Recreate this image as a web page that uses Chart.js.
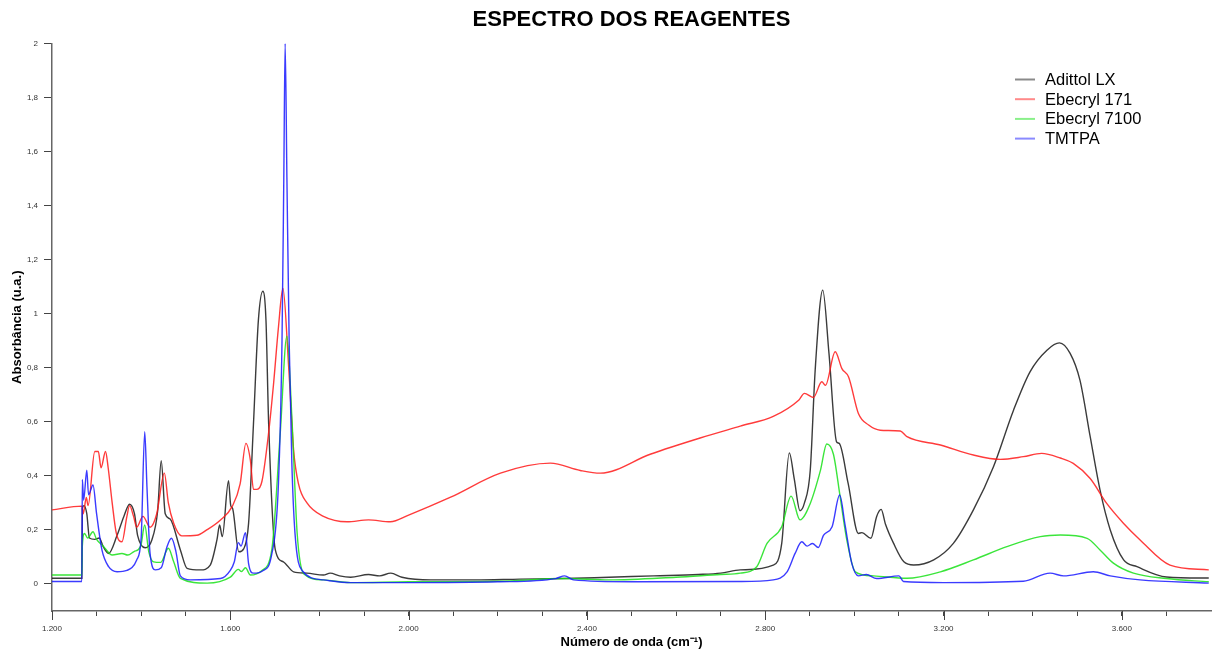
<!DOCTYPE html>
<html>
<head>
<meta charset="utf-8">
<title>Espectro dos reagentes</title>
<script src="https://cdn.jsdelivr.net/npm/chart.js@4.4.1/dist/chart.umd.min.js"></script>
<style>
  html, body { margin: 0; padding: 0; background: #fff; }
</style>
</head>
<body>
<canvas id="espectro" width="1212" height="650"></canvas>
<script>
// valores (numero de onda em cm-1, absorbancia em u.a.)
const nomes = ['Adittol LX', 'Ebecryl 171', 'Ebecryl 7100', 'TMTPA'];

const x_adittol = [1200,1267,1268,1272,1278,1284,1296,1306,1315,1327,1346,1361,1374,1385,1392,1409,1424,1437,1445,1454,1465,1488,1503,1533,1555,1570,1576,1582,1596,1601,1605,1619,1630,1641,1652,1663,1673,1680,1686,1701,1719,1742,1772,1809,1824,1845,1870,1910,1935,1960,1985,2050,2150,2250,2350,2450,2550,2650,2700,2744,2818,2837,2854,2865,2878,2888,2901,2912,2929,2943,2960,2966,2986,3009,3017,3037,3050,3060,3070,3088,3111,3133,3178,3222,3267,3312,3357,3394,3432,3460,3484,3506,3529,3551,3574,3604,3634,3700,3795];
const y_adittol = [0.021,0.021,0.28,0.29,0.26,0.17,0.165,0.17,0.138,0.113,0.18,0.249,0.295,0.26,0.18,0.134,0.163,0.27,0.456,0.26,0.24,0.126,0.058,0.052,0.07,0.163,0.218,0.175,0.382,0.29,0.28,0.119,0.13,0.224,0.594,0.976,1.083,0.976,0.594,0.126,0.082,0.045,0.04,0.033,0.04,0.03,0.025,0.035,0.03,0.04,0.025,0.015,0.015,0.018,0.02,0.025,0.03,0.035,0.04,0.052,0.07,0.15,0.485,0.39,0.271,0.30,0.421,0.79,1.087,0.853,0.526,0.52,0.372,0.187,0.19,0.169,0.25,0.276,0.22,0.15,0.082,0.07,0.089,0.15,0.274,0.434,0.643,0.785,0.865,0.892,0.853,0.754,0.545,0.348,0.20,0.089,0.064,0.026,0.022];

const x_eb171 = [1200,1267,1270,1277,1281,1296,1304,1310,1320,1326,1335,1344,1357,1368,1374,1383,1390,1404,1420,1435,1452,1461,1473,1491,1525,1547,1578,1604,1622,1635,1645,1652,1660,1671,1686,1697,1708,1718,1731,1742,1753,1772,1809,1862,1910,1959,2000,2093,2206,2318,2385,2430,2542,2654,2744,2818,2875,2888,2908,2927,2935,2957,2972,2987,3009,3032,3058,3103,3118,3193,3267,3327,3379,3420,3462,3491,3529,3566,3604,3641,3708,3795];
const y_eb171 = [0.274,0.288,0.26,0.32,0.29,0.49,0.49,0.43,0.49,0.43,0.30,0.19,0.156,0.25,0.29,0.25,0.21,0.25,0.21,0.26,0.41,0.30,0.225,0.178,0.18,0.20,0.237,0.286,0.37,0.52,0.458,0.35,0.35,0.38,0.56,0.74,0.95,1.094,0.80,0.495,0.37,0.30,0.25,0.23,0.237,0.23,0.255,0.32,0.41,0.447,0.42,0.41,0.48,0.54,0.584,0.62,0.68,0.705,0.69,0.748,0.735,0.859,0.797,0.766,0.631,0.588,0.569,0.566,0.545,0.514,0.477,0.461,0.471,0.483,0.466,0.446,0.39,0.298,0.224,0.163,0.07,0.052];

const x_eb7100 = [1200,1267,1268,1273,1280,1292,1300,1315,1335,1357,1370,1384,1399,1408,1417,1428,1444,1461,1473,1488,1548,1600,1618,1625,1634,1645,1671,1693,1712,1727,1738,1750,1765,1809,1870,2000,2200,2350,2450,2600,2700,2744,2781,2804,2837,2858,2878,2901,2924,2938,2953,2968,2983,3002,3043,3118,3193,3267,3342,3417,3462,3522,3551,3581,3626,3700,3795];
const y_eb7100 = [0.033,0.033,0.14,0.187,0.17,0.193,0.165,0.14,0.107,0.113,0.107,0.12,0.14,0.218,0.12,0.082,0.08,0.132,0.082,0.021,0.003,0.025,0.054,0.046,0.06,0.033,0.05,0.126,0.557,0.917,0.62,0.187,0.037,0.015,0.005,0.008,0.01,0.02,0.015,0.025,0.035,0.04,0.064,0.15,0.212,0.325,0.237,0.298,0.421,0.518,0.48,0.323,0.163,0.045,0.03,0.021,0.045,0.089,0.138,0.175,0.181,0.169,0.126,0.077,0.04,0.02,0.008];

const x_tmtpa = [1200,1267,1268,1271,1278,1282,1292,1300,1312,1327,1346,1368,1390,1400,1408,1413,1420,1432,1445,1458,1468,1478,1488,1510,1578,1600,1609,1618,1624,1634,1641,1652,1674,1693,1708,1716,1720,1723,1727,1732,1738,1745,1761,1809,1870,2000,2200,2330,2350,2370,2500,2744,2818,2849,2867,2882,2894,2906,2919,2931,2950,2967,2979,2994,3009,3027,3050,3100,3110,3200,3379,3439,3469,3536,3574,3641,3795];
const y_tmtpa = [0.009,0.009,0.387,0.31,0.421,0.33,0.366,0.26,0.126,0.064,0.045,0.05,0.089,0.17,0.563,0.36,0.113,0.052,0.06,0.138,0.169,0.12,0.03,0.015,0.02,0.05,0.082,0.153,0.14,0.19,0.075,0.04,0.05,0.11,0.372,0.9,1.5,2.0,1.5,0.9,0.45,0.19,0.05,0.015,0.005,0.005,0.008,0.02,0.03,0.015,0.008,0.009,0.015,0.045,0.113,0.156,0.14,0.15,0.135,0.181,0.212,0.329,0.22,0.077,0.03,0.035,0.02,0.03,0.009,0.005,0.01,0.04,0.03,0.045,0.03,0.015,0.003];

const coresLinha = ['rgba(25,25,25,0.85)', 'rgba(255,25,25,0.85)', 'rgba(25,225,25,0.85)', 'rgba(25,25,255,0.85)'];
const coresLegenda = ['#8a8a8a', '#ff8a8a', '#8af08a', '#8a8aff'];

function pares(xs, ys) {
  return xs.map(function (x, i) { return { x: x, y: ys[i] }; });
}

function milhar(v) {
  return String(v).replace(/\B(?=(\d{3})+(?!\d))/g, '.');
}

// legenda desenhada dentro da area do grafico, canto superior direito
const legendaInterna = {
  id: 'legendaInterna',
  afterDraw(chart) {
    const ctx = chart.ctx;
    ctx.save();
    chart.data.datasets.forEach(function (ds, i) {
      const y = 79.5 + i * 19.7;
      ctx.strokeStyle = coresLegenda[i];
      ctx.lineWidth = 2;
      ctx.beginPath();
      ctx.moveTo(1015, y);
      ctx.lineTo(1035, y);
      ctx.stroke();
      ctx.fillStyle = '#000';
      ctx.font = '16.5px "Liberation Sans", Arial, sans-serif';
      ctx.textBaseline = 'middle';
      ctx.fillText(ds.label, 1045, y + 1);
    });
    ctx.restore();
  }
};

// marcas maiores (a cada 400) no eixo x
const marcasMaiores = {
  id: 'marcasMaiores',
  afterDraw(chart) {
    const sx = chart.scales.x;
    const ctx = chart.ctx;
    ctx.save();
    ctx.strokeStyle = '#444';
    ctx.lineWidth = 1;
    sx.ticks.forEach(function (t) {
      if (t.value % 400 === 0 && t.value < 3800) {
        const px = Math.round(sx.getPixelForValue(t.value)) + 0.5;
        ctx.beginPath();
        ctx.moveTo(px, sx.top);
        ctx.lineTo(px, sx.top + 9);
        ctx.stroke();
      }
    });
    ctx.restore();
  }
};

const conjuntos = [
  pares(x_adittol, y_adittol),
  pares(x_eb171, y_eb171),
  pares(x_eb7100, y_eb7100),
  pares(x_tmtpa, y_tmtpa)
];

const data = {
  datasets: nomes.map(function (nome, i) {
    return {
      label: nome,
      data: conjuntos[i],
      borderColor: coresLinha[i],
      backgroundColor: coresLinha[i],
      borderWidth: 1.4,
      pointRadius: 0,
      fill: false,
      cubicInterpolationMode: 'monotone',
      order: 3 - i
    };
  })
};

const fonteEixo = { family: '"Liberation Sans", Arial, sans-serif', size: 8 };
const fonteTitulo = { family: '"Liberation Sans", Arial, sans-serif', size: 13, weight: 'bold' };

var config = {
  type: 'line',
  data: data,
  options: {
    responsive: false,
    animation: false,
    layout: { padding: { left: 0, right: 1, top: 0, bottom: 0 } },
    plugins: {
      legend: { display: false },
      tooltip: { enabled: false },
      title: {
        display: true,
        fullSize: false,
        text: 'ESPECTRO DOS REAGENTES',
        color: '#000',
        font: { family: '"Liberation Sans", Arial, sans-serif', size: 22, weight: 'bold' },
        padding: { top: 7, bottom: 10 }
      }
    },
    scales: {
      x: {
        type: 'linear',
        min: 1200,
        max: 3800,
        border: { color: '#666', width: 1.5 },
        grid: {
          drawOnChartArea: false,
          drawTicks: true,
          tickLength: 5,
          color: '#444',
          tickColor: function (c) { return c.tick && c.tick.value >= 3800 ? 'rgba(0,0,0,0)' : '#444'; }
        },
        ticks: {
          stepSize: 100,
          autoSkip: false,
          maxRotation: 0,
          padding: 8,
          color: '#333',
          font: fonteEixo,
          callback: function (v) { return (v % 400 === 0 && v < 3800) ? milhar(v) : ''; }
        },
        title: { display: true, text: 'Número de onda (cm⁻¹)', color: '#000', font: fonteTitulo, padding: { top: 0, bottom: 0 } },
        afterFit: function (s) { s.height = 39; s.paddingRight = 0; }
      },
      y: {
        min: -0.1,
        max: 2,
        border: { color: '#666', width: 1.5 },
        grid: { drawOnChartArea: false, drawTicks: true, tickLength: 8, color: '#444' },
        ticks: {
          stepSize: 0.2,
          includeBounds: false,
          padding: 6,
          color: '#333',
          font: fonteEixo,
          callback: function (v) { return String(Math.round(v * 10) / 10).replace('.', ','); }
        },
        title: { display: true, text: 'Absorbância (u.a.)', color: '#000', font: fonteTitulo, padding: { top: 10, bottom: 0 } },
        afterFit: function (s) { s.width = 52; }
      }
    }
  },
  plugins: [legendaInterna, marcasMaiores]
};

const grafico = new Chart(document.getElementById('espectro'), config);
</script>
</body>
</html>
